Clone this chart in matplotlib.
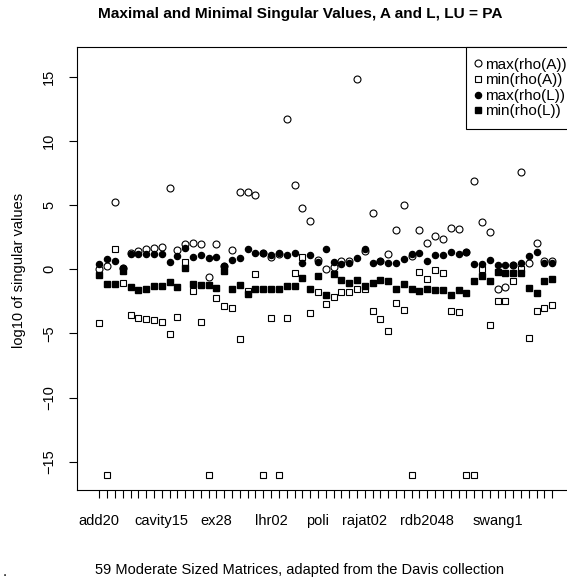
import matplotlib.pyplot as plt

plt.rcParams['font.family'] = ['Liberation Sans', 'DejaVu Sans']

# log10 of singular values for the 59 matrices
max_a = [0.0, 0.26, 5.26, 0.13, 1.3, 1.43, 1.56, 1.64, 1.77, 6.33,
         1.51, 1.95, 2.03, 2.0, -0.57, 2.0, 0.26, 1.48, 6.04, 6.04,
         5.78, 1.3, 0.99, 1.17, 11.7, 6.56, 4.77, 3.78, 0.73, 0.05,
         0.18, 0.65, 0.65, 14.8, 1.43, 4.37, 0.65, 1.17, 3.07, 5.0,
         1.04, 3.05, 2.03, 2.6, 2.34, 3.18, 3.12, 1.35, 6.9, 3.7,
         2.92, -1.56, -1.38, 0.34, 7.6, 0.52, 2.03, 0.65, 0.65]
min_a = [-4.2, -16, 1.56, -1.1, -3.6, -3.78, -3.9, -3.98, -4.1, -5.03,
         -3.72, 0.6, -1.69, -4.1, -16, -2.27, -2.87, -3.0, -5.4, -1.69,
         -0.39, -16, -3.78, -16, -3.78, -0.26, 0.99, -3.39, -1.74, -2.73,
         -2.14, -1.77, -1.77, -1.51, -1.51, -3.26, -3.85, -4.82, -2.66, -3.18,
         -16, -0.18, -0.73, -0.05, -0.31, -3.26, -3.31, -16, -16, 0.0,
         -4.35, -2.47, -2.47, -0.91, 0.05, -5.34, -3.26, -3.05, -2.81]
max_l = [0.39, 0.78, 0.65, 0.13, 1.17, 1.17, 1.17, 1.17, 1.17, 0.57,
         1.04, 1.69, 0.99, 1.09, 0.86, 0.99, 0.26, 0.73, 0.91, 1.61,
         1.25, 1.3, 1.09, 1.3, 1.09, 1.25, 0.52, 1.12, 0.57, 1.56,
         0.57, 0.39, 0.47, 0.86, 1.56, 0.52, 0.65, 0.52, 0.52, 0.83,
         1.17, 1.3, 0.65, 1.12, 1.12, 1.35, 1.22, 1.38, 0.44, 0.44,
         0.73, 0.31, 0.34, 0.34, 0.52, 1.04, 1.35, 0.52, 0.52]
min_l = [-0.44, -1.12, -1.17, -0.13, -1.38, -1.61, -1.51, -1.3, -1.3, -0.99,
         -1.35, 0.08, -1.17, -1.25, -1.25, -1.43, -0.13, -1.56, -1.25, -1.95,
         -1.56, -1.56, -1.51, -1.56, -1.3, -1.3, -0.7, -1.56, -0.52, -2.03,
         -0.39, -0.86, -1.04, -0.86, -1.3, -1.09, -0.86, -0.91, -1.51, -1.17,
         -1.51, -1.69, -1.56, -1.64, -1.64, -2.03, -1.64, -1.82, -0.91, -0.52,
         -0.91, -0.18, -0.31, -0.26, -0.31, -1.43, -1.82, -0.91, -0.73]

# only some matrix names fit under the axis
shown_names = {1: 'add20', 9: 'cavity15', 16: 'ex28', 23: 'lhr02',
               29: 'poli', 35: 'rajat02', 43: 'rdb2048', 52: 'swang1'}
y_ticks = [-15, -10, -5, 0, 5, 10, 15]

idx = list(range(1, len(max_a) + 1))

fig = plt.figure(figsize=(5.67, 5.82), dpi=100)
ax = fig.add_axes([77/567, 92/582, 497.6/567, 443/582])

ax.plot(idx, max_a, 'o', mfc='white', mec='black', mew=0.8, ms=5, label='max(rho(A))')
ax.plot(idx, min_a, 's', mfc='white', mec='black', mew=0.8, ms=4.6, label='min(rho(A))')
ax.plot(idx, max_l, 'o', color='black', ms=4.4, label='max(rho(L))')
ax.plot(idx, min_l, 's', color='black', ms=4.4, label='min(rho(L))')

ax.set_xlim(-1.855, 61.86)
ax.set_ylim(-17.19, 17.31)

ax.set_xticks(idx)
ax.set_xticklabels([shown_names.get(i, '') for i in idx], fontsize=10.5)
ax.set_yticks(y_ticks)
ax.set_yticklabels([str(v).replace('-', '\u2212') for v in y_ticks],
                   rotation=90, va='center', fontsize=10.5)
ax.tick_params(axis='x', length=6, width=0.8, pad=11)
ax.tick_params(axis='y', length=6, width=0.8, pad=9)
for s in ax.spines.values():
  s.set_linewidth(0.8)

leg = ax.legend(loc='upper right', bbox_to_anchor=(1.0064, 1.0), borderaxespad=0,
                fancybox=False, edgecolor='black', framealpha=1, fontsize=11,
                handletextpad=0.35, borderpad=0.71, labelspacing=0.1,
                handlelength=0.2)
leg.get_frame().set_linewidth(0.8)

fig.text(0.529, 1 - 14/582, 'Maximal and Minimal Singular Values, A and L, LU = PA',
         ha='center', va='center', fontsize=11.1, fontweight='bold')
fig.text(19/567, 1 - 270/582, 'log10 of singular values', rotation=90,
         ha='center', va='center', fontsize=10.5)
fig.text(0.529, 1 - 570/582, '59 Moderate Sized Matrices, adapted from the Davis collection',
         ha='center', va='center', fontsize=10.5)
fig.text(5/567, 1 - 572/582, '.', ha='center', va='center', fontsize=10.5)

plt.savefig('out.png')
plt.close()
